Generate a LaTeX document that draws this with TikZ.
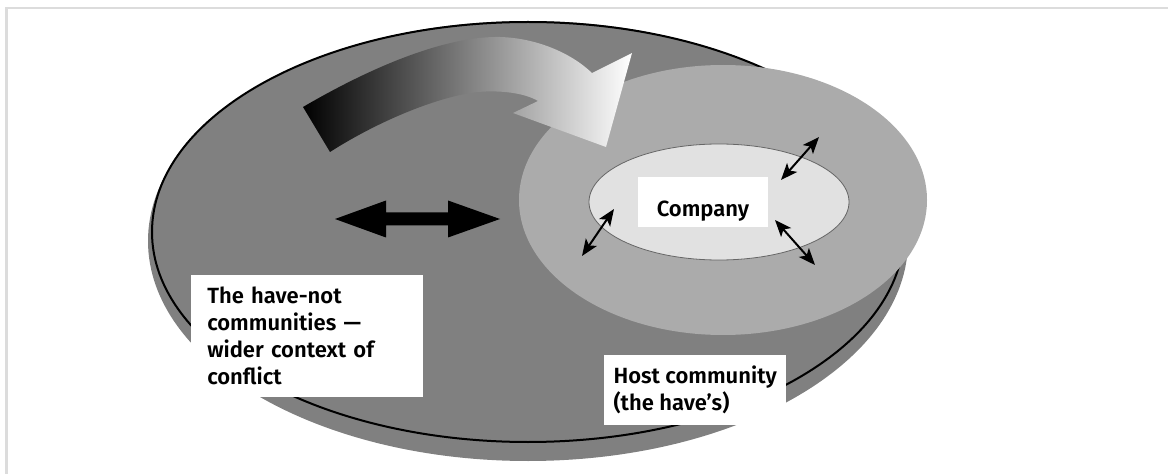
\documentclass[tikz,border=0pt]{standalone}
\usepackage{fontspec}
\setmainfont{Fira Sans}[UprightFont=* SemiBold]
\usetikzlibrary{arrows.meta}
\definecolor{framegray}{HTML}{DCDCDC}
\definecolor{basegray}{HTML}{808080}
\definecolor{hostgray}{HTML}{ABABAB}
\definecolor{companygray}{HTML}{E1E1E1}
\begin{document}
\begin{tikzpicture}[x=0.75pt,y=-0.75pt,
  tag/.style={fill=white, font=\fontsize{16.5pt}{20.25pt}\selectfont, align=left},
  flowarrow/.style={line width=1.5pt,
    {Stealth[length=12.5pt,width=10pt,inset=3pt]}-{Stealth[length=12.5pt,width=10pt,inset=3pt]}},
]
\useasboundingbox (0,0) rectangle (1168,474);

% page frame, top and left rules only
\fill[framegray] (5,7) rectangle (1168,9.5);
\fill[framegray] (5,7) rectangle (7.5,474);

% wider context: disc underside, then its outlined top face
\fill[basegray] (528,241) ellipse [x radius=380, y radius=220];
\filldraw[fill=basegray, draw=black, line width=1.5pt] (528,232) ellipse [x radius=376, y radius=210];

% host community disc
\fill[hostgray] (723,200) ellipse [x radius=204, y radius=135];

% curved shaded arrow sweeping onto the host disc
\shade[left color=black, right color=white]
  (303,107) .. controls (380,62) and (450,36) .. (500,37)
  .. controls (535,38) and (570,52) .. (592,73)
  -- (632,53) -- (606,147) -- (513,113) -- (538,101)
  .. controls (525,93) and (500,90) .. (478,92)
  .. controls (440,96) and (380,120) .. (330,152) -- cycle;

% company ellipse
\filldraw[fill=companygray, draw=black!60, line width=0.6pt] (719,202) ellipse [x radius=130, y radius=58];

% heavy two-way arrow between the have-nots and the host community
\fill[black] (335,219) -- (386,200.5) -- (386,212.5) -- (448,212.5) -- (448,200.5)
  -- (500,219) -- (448,237.5) -- (448,225.5) -- (386,225.5) -- (386,237.5) -- cycle;

% exchanges across the company boundary
\coordinate (ne-in) at (781,180);
\coordinate (ne-out) at (819,137);
\coordinate (w-out) at (582,256);
\coordinate (w-in) at (614,209);
\coordinate (se-in) at (775,220);
\coordinate (se-out) at (815,265);
\draw[flowarrow] (ne-in) -- (ne-out);
\draw[flowarrow] (w-out) -- (w-in);
\draw[flowarrow] (se-in) -- (se-out);

% labels
\node[tag, inner xsep=0pt, inner ysep=0pt, minimum width=97.5pt,
  text height=29.6pt, text depth=7.9pt] (company) at (703,202) {Company};
\node[tag, anchor=north west, text width=150pt, inner xsep=12pt, inner ysep=9pt]
  (havenot) at (191,275) {The have-not\\communities —\\wider context of\\conflict};
\node[tag, anchor=north west, inner xsep=7pt, inner ysep=8pt]
  (host) at (604,355) {Host community\\(the have’s)};
\end{tikzpicture}
\end{document}
